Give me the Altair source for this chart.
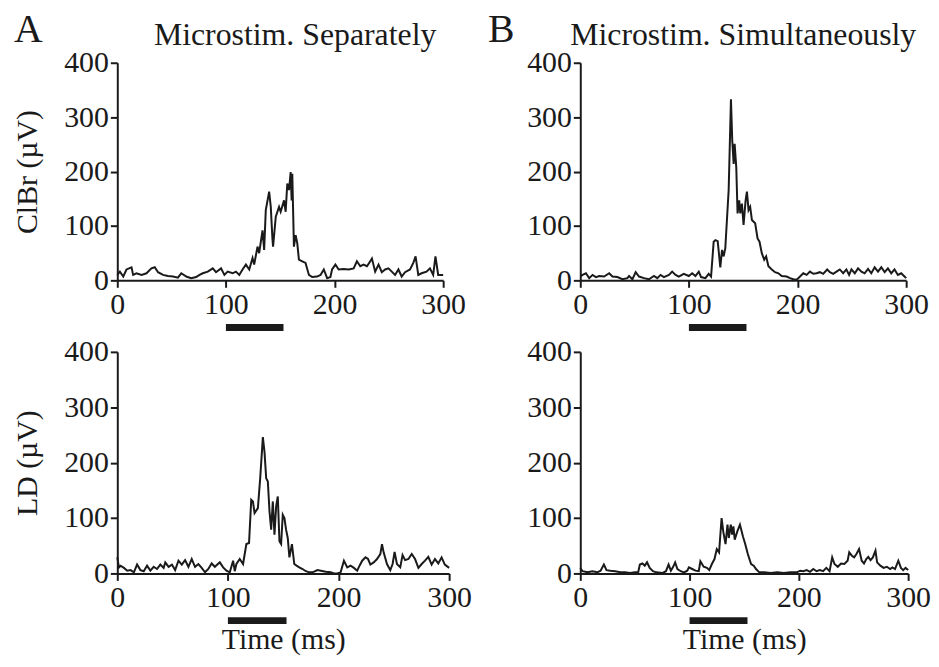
import altair as alt
import pandas as pd

# ---------------- data ----------------
# Panel A, top: ClBr, microstim. separately
sep_clbr_t = [0, 2.4, 5.5, 8.5, 13.1, 14.6, 17.7, 22.3, 26.9, 31.4,
              34.5, 37.5, 42.1, 46.7, 51.3, 55.8, 58.9, 63.5, 68, 72.6,
              75.7, 78.7, 83.3, 87.9, 90.9, 95.5, 98.6, 101.6, 106.2, 109.2,
              112.3, 115.3, 118.4, 121.5, 124.5, 126, 129.1, 130.6, 133.7, 135.2,
              136.7, 139.8, 141.3, 142.8, 143.4, 145.9, 148.9, 150.4, 153.5, 155,
              156.5, 158.1, 159.6, 160.5, 161.1, 162.6, 164.2, 165.7, 167.2, 170.3,
              173.3, 176.4, 179.4, 184, 187.1, 190.1, 193.2, 196.2, 197.7, 200.8,
              203.8, 208.4, 213, 217.6, 220.6, 223.7, 226.7, 229.8, 231.9, 234.4,
              237.4, 240.5, 243.5, 246.6, 249.6, 252.7, 255.7, 258.8, 261.8, 264.9,
              269.5, 272.5, 274.6, 277.1, 280.1, 284.7, 287.8, 290.8, 292.9, 295.4,
              300]
sep_clbr_v = [10, 16, 7, 20, 24, 10, 13, 10, 13, 22,
              24, 15, 10, 8, 7, 5, 13, 7, 4, 6,
              10, 13, 16, 22, 15, 22, 10, 16, 13, 16,
              10, 20, 29, 20, 41, 29, 62, 50, 92, 56,
              129, 163, 135, 77, 62, 117, 135, 126, 147, 126,
              178, 166, 199, 147, 196, 62, 83, 68, 38, 35,
              32, 10, 6, 7, 10, 20, 4, 6, 20, 29,
              20, 21, 20, 22, 35, 26, 29, 26, 32, 40,
              16, 29, 15, 20, 22, 16, 10, 20, 7, 15,
              20, 32, 44, 10, 13, 16, 22, 10, 44, 10,
              10]

# Panel B, top: ClBr, microstim. simultaneously
sim_clbr_t = [0, 2.1, 5.2, 8.2, 11.3, 14.4, 17.4, 22, 26.6, 29.6,
              34.2, 38.8, 43.4, 44.9, 48, 51, 54.1, 58.7, 63.2, 67.8,
              70.9, 73.9, 77, 81.6, 84.6, 87.7, 90.7, 95.3, 99.9, 103,
              106, 109.1, 111.2, 115.2, 118.2, 120.4, 122.8, 124.4, 126.5, 128.9,
              130.5, 132, 133.5, 136.6, 138.7, 139.9, 141.2, 142.1, 143.6, 144.8,
              146.3, 147.3, 148.8, 150.3, 152.2, 153.4, 154.9, 156.4, 158, 161,
              163.2, 165, 167.1, 169.3, 171.1, 173.2, 176.3, 179.3, 182.4, 185.4,
              190, 193.1, 196.2, 199.2, 202.3, 205.3, 208.4, 211.4, 214.5, 217.5,
              220.6, 223.6, 227.3, 229.8, 232.8, 235.9, 238.9, 242, 245, 247.5,
              249.6, 252.7, 255.7, 258.8, 261.8, 264.9, 267.9, 271, 274.1, 277.1,
              280.2, 283.2, 286.3, 289.3, 292.4, 295.4, 298.5, 300]
sim_clbr_v = [7, 10, 13, 4, 10, 6, 8, 7, 13, 7,
              6, 2, 4, 8, 2, 15, 7, 4, 2, 8,
              4, 10, 6, 10, 16, 10, 7, 12, 8, 13,
              8, 16, 6, 4, 12, 7, 71, 74, 72, 24,
              56, 44, 59, 166, 333, 257, 214, 251, 208, 123,
              147, 123, 141, 102, 147, 163, 129, 135, 111, 105,
              77, 71, 50, 38, 44, 26, 20, 15, 13, 8,
              7, 4, 2, 1, 7, 13, 10, 16, 12, 13,
              15, 12, 20, 15, 12, 16, 20, 13, 20, 10,
              20, 13, 22, 16, 13, 21, 13, 24, 16, 24,
              15, 22, 13, 20, 10, 13, 7, 4]

# Panel A, bottom: LD, microstim. separately
sep_ld_t = [0, 1.5, 3, 6, 9, 12, 15, 17.9, 20.9, 23.9,
            26.9, 29.9, 32.9, 35.9, 38.9, 41.9, 43.4, 46.4, 49.4, 52.3,
            55.3, 58.3, 61.3, 64.3, 67.3, 70.3, 73.3, 76.3, 79.3, 82.3,
            85.3, 88.2, 92.7, 95.7, 98.7, 101.7, 104.7, 106.2, 107.7, 110.7,
            113.7, 116.7, 119.1, 121.1, 122.6, 124.1, 127.1, 129.2, 131.6, 133.1,
            134.6, 136.1, 137.6, 139.1, 140.6, 142.1, 143.6, 145.1, 146.6, 148.1,
            149.6, 151.1, 152.6, 154.1, 155.6, 157.9, 160, 162.1, 164.5, 167.5,
            170.5, 173.5, 176.5, 181, 184, 188.5, 192.9, 195.9, 198.9, 201.9,
            204.9, 207.9, 210.9, 213.9, 216.9, 219, 221.4, 224.4, 226.7, 228.8,
            231.8, 234.8, 237.8, 239.3, 240.8, 243.8, 246.8, 248.9, 250.7, 252.8,
            255.8, 257.9, 260.2, 263.2, 266.2, 269.2, 272.2, 275.2, 278.2, 281.2,
            284.2, 287.2, 290.2, 293.2, 296.1, 300]
sep_ld_v = [29, 11, 14, 10, 5, 6, 2, 16, 6, 4,
            14, 5, 12, 8, 16, 10, 20, 12, 16, 6,
            23, 16, 24, 12, 26, 12, 17, 10, 2, 8,
            18, 12, 20, 11, 5, 2, 23, 4, 17, 26,
            17, 53, 55, 133, 130, 109, 118, 172, 246, 219,
            172, 166, 112, 79, 130, 70, 121, 139, 58, 53,
            106, 100, 79, 64, 29, 53, 17, 14, 11, 8,
            4, 2, 2, 6, 5, 3, 2, 0, 0, 2,
            23, 11, 14, 10, 5, 14, 23, 29, 26, 16,
            20, 26, 35, 53, 38, 17, 6, 17, 39, 17,
            11, 33, 24, 26, 35, 26, 10, 17, 23, 30,
            16, 26, 18, 29, 16, 10]

# Panel B, bottom: LD, microstim. simultaneously
sim_ld_t = [0, 2.1, 6.6, 11.1, 15.6, 18.6, 21.6, 24, 27.5, 32,
            36.5, 41, 45.5, 50, 53, 54.5, 56.9, 59, 61.1, 63.5,
            66.5, 69.5, 75.4, 78.4, 80.8, 82.9, 85, 86.8, 88.9, 91.9,
            94.9, 97.9, 99.4, 102.4, 105.4, 108.4, 109.9, 112.9, 115.9, 118,
            120.4, 122.8, 124.9, 127, 129.3, 130.8, 132.9, 134.7, 135.9, 137.7,
            138.9, 140.1, 141.3, 143.7, 146.1, 147.3, 148.8, 150.9, 153.3, 156.3,
            158.7, 160.8, 163.8, 168.3, 174.3, 180.2, 186.2, 192.2, 198.2, 201.2,
            204.2, 207.2, 210.2, 213.2, 216.2, 219.2, 222.2, 225.1, 228.1, 230.5,
            232.6, 235.6, 238.6, 241.6, 244.6, 246.1, 248.5, 250.6, 252.7, 255.1,
            257.5, 259.6, 261.7, 263.5, 265.6, 267.7, 270.1, 271.6, 274.6, 277.5,
            280.5, 283.5, 285.6, 288, 291, 293.4, 295.5, 297.6, 300]
sim_ld_v = [10, 4, 2, 4, 2, 5, 16, 6, 5, 4,
            2, 2, 1, 2, 2, 16, 18, 14, 20, 10,
            4, 2, 1, 4, 16, 5, 12, 20, 8, 4,
            2, 5, 11, 8, 5, 4, 22, 12, 10, 6,
            17, 26, 44, 38, 100, 76, 53, 88, 64, 88,
            70, 85, 61, 76, 88, 79, 67, 53, 35, 17,
            14, 8, 2, 2, 1, 2, 1, 2, 2, 5,
            4, 6, 3, 8, 4, 6, 4, 10, 4, 29,
            17, 12, 18, 17, 23, 38, 32, 29, 35, 44,
            23, 18, 26, 30, 24, 29, 41, 20, 14, 10,
            12, 8, 11, 8, 23, 10, 6, 10, 6]

stim_window = [100, 153]          # microstimulation period (ms)
x_ticks = [0, 100, 200, 300]
y_ticks = [0, 100, 200, 300, 400]
col_titles = ["Microstim. Separately", "Microstim. Simultaneously"]
panel_letters = ["A", "B"]
row_titles = ["ClBr (\u00b5V)", "LD (\u00b5V)"]
x_title = "Time (ms)"

FONT = "Liberation Serif"
INK = "#1a1a1a"


def panel(ts, vs, w, h, ytitle, xtitle, col_title=None, title_dx=0,
          letter=None, letter_x=0):
    df = pd.DataFrame({"t": ts, "v": vs})
    x_axis = alt.Axis(values=x_ticks, labelFlush=False, labelOverlap=False,
                      titlePadding=13)
    line = alt.Chart(df).mark_line(color=INK, strokeWidth=2).encode(
        x=alt.X("t:Q", scale=alt.Scale(domain=[0, 300], nice=False, zero=False),
                axis=x_axis, title=xtitle),
        y=alt.Y("v:Q", scale=alt.Scale(domain=[0, 400], nice=False),
                axis=alt.Axis(values=y_ticks, labelOverlap=False, labelFlush=False,
                              titlePadding=21),
                title=ytitle),
    )
    bar_df = pd.DataFrame({"t": [stim_window[0]], "t2": [stim_window[1]]})
    bar = alt.Chart(bar_df).mark_rule(color=INK, strokeWidth=7, strokeCap="butt").encode(
        x=alt.X("t:Q", title=xtitle),
        x2="t2:Q",
        y=alt.value(h + 47.5),
    )
    layers = [line, bar]
    if col_title:
        tdf = pd.DataFrame({"s": [col_title]})
        layers.append(alt.Chart(tdf).mark_text(font=FONT, fontSize=32, color=INK,
                                               align="center", baseline="alphabetic").encode(
            text="s:N", x=alt.value(w / 2 + title_dx), y=alt.value(-18)))
    if letter:
        ldf = pd.DataFrame({"s": [letter]})
        layers.append(alt.Chart(ldf).mark_text(font=FONT, fontSize=40, color=INK,
                                               align="left", baseline="alphabetic").encode(
            text="s:N", x=alt.value(letter_x), y=alt.value(-21)))
    return alt.layer(*layers).properties(width=w, height=h)


pA_top = panel(sep_clbr_t, sep_clbr_v, 328, 219, row_titles[0], None,
               col_titles[0], 15, panel_letters[0], -104)
pB_top = panel(sim_clbr_t, sim_clbr_v, 328, 219, None, None,
               col_titles[1], 0, panel_letters[1], -93)
pA_bot = panel(sep_ld_t, sep_ld_v, 334, 223, row_titles[1], x_title)
pB_bot = panel(sim_ld_t, sim_ld_v, 330, 223, None, x_title)

chart = alt.concat(
    pA_top, pB_top, pA_bot, pB_bot,
    columns=2, spacing={"row": 72, "column": 132}, bounds="flush",
).configure_axis(
    labelFont=FONT, labelFontSize=30, labelColor=INK, labelPadding=2,
    titleFont=FONT, titleFontSize=30, titleFontWeight="normal", titleColor=INK,
    domainColor=INK, domainWidth=2, tickColor=INK, tickWidth=2, tickSize=7,
    grid=False,
).configure_view(stroke=None).properties(
    background="white",
    padding={"left": 5, "top": 0, "right": 0, "bottom": 0},
)

chart.save("out.html", embed_options={"renderer": "svg", "actions": False})
